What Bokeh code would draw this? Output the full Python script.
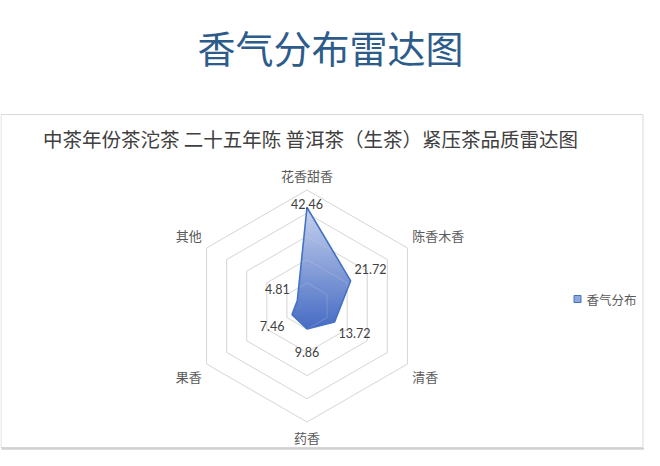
import numpy as np
from bokeh.plotting import figure
from bokeh.models import Range1d
from bokeh.core.properties import value
from bokeh.embed import file_html
from bokeh.resources import INLINE

# ---------------- data ----------------
categories = ["花香甜香", "陈香木香", "清香", "药香", "果香", "其他"]
values = [42.46, 21.72, 13.72, 9.86, 7.46, 4.81]
ring_levels = [10, 20, 30, 40, 50]
series_name = "香气分布"
main_title = "香气分布雷达图"
chart_title = "中茶年份茶沱茶 二十五年陈 普洱茶（生茶）紧压茶品质雷达图"

# ---------------- layout ----------------
W, H = 644, 450
R_MAX = ring_levels[-1]
scale = 116.0 / R_MAX          # px per value unit
cx, cy = 306.5, 305.5          # radar centre in canvas px (from top-left)

x_range = Range1d(-cx / scale, (W - cx) / scale)
y_range = Range1d(-(H - cy) / scale, cy / scale)


def X(px):
    return x_range.start + px / scale


def Y(py):
    return y_range.end - py / scale


CJK = value("Noto Sans CJK SC")

p = figure(width=W, height=H, x_range=x_range, y_range=y_range,
           output_backend="svg", toolbar_location=None, min_border=0)
p.axis.visible = False
p.grid.visible = False
p.outline_line_color = None
p.background_fill_color = "white"
p.border_fill_color = "white"

n = len(categories)
theta = np.pi / 2 - np.arange(n) * 2 * np.pi / n
cos_t, sin_t = np.cos(theta), np.sin(theta)

# chart box
p.quad(left=[X(0.5)], right=[X(642.5)], top=[Y(114)], bottom=[Y(447)],
       fill_color="white", line_color="#D9D9D9", line_width=1)
p.line(x=[X(1), X(644)], y=[Y(448.3), Y(448.3)], line_color="#D0D0D0", line_width=2)

# grid rings
ring_xs = [list(lv * cos_t) for lv in ring_levels]
ring_ys = [list(lv * sin_t) for lv in ring_levels]
p.patches(xs=ring_xs, ys=ring_ys, fill_color=None, line_color="#D9D9D9", line_width=1)

# series polygon with vertical gradient (built from clipped bands)
vals = np.array(values)
px_ = vals * cos_t
py_ = vals * sin_t
poly = list(zip(px_, py_))


def clip_half(pts, keep, inter):
    out = []
    for i in range(len(pts)):
        cur, prev = pts[i], pts[i - 1]
        if keep(cur):
            if not keep(prev):
                out.append(inter(prev, cur))
            out.append(cur)
        elif keep(prev):
            out.append(inter(prev, cur))
    return out


def at_y(yv):
    def f(a, b):
        t = (yv - a[1]) / (b[1] - a[1])
        return (a[0] + (b[0] - a[0]) * t, yv)
    return f


def clip_band(pts, y0, y1):
    pts = clip_half(pts, lambda q: q[1] >= y0, at_y(y0))
    if pts:
        pts = clip_half(pts, lambda q: q[1] <= y1, at_y(y1))
    return pts


top_rgb = np.array([0xC8, 0xD3, 0xEE])
bot_rgb = np.array([0x47, 0x6C, 0xC4])
ymax, ymin = py_.max(), py_.min()
NB = 70
edges = np.linspace(ymax, ymin, NB + 1)
bxs, bys, bcols = [], [], []
eps = (ymax - ymin) / NB * 0.6
for i in range(NB):
    hi, lo = edges[i], edges[i + 1]
    pts = clip_band(poly, lo - eps, hi)
    if len(pts) >= 3:
        t = (i + 0.5) / NB
        c = (top_rgb * (1 - t) + bot_rgb * t).astype(int)
        bxs.append([q[0] for q in pts])
        bys.append([q[1] for q in pts])
        bcols.append("#%02x%02x%02x" % tuple(c))
p.patches(xs=bxs, ys=bys, fill_color=bcols, line_color=None, fill_alpha=1.0)

# faint grid through the fill
p.patches(xs=ring_xs, ys=ring_ys, fill_color=None, line_color="#D9D9D9",
          line_width=1, line_alpha=0.25)

# outline
p.patch(x=list(px_), y=list(py_), fill_color=None, line_color="#4472C4", line_width=1.6)

# category labels
off = 5.5 / scale
lx = (R_MAX + off) * cos_t
ly = (R_MAX + off) * sin_t
aligns = ["left" if c > 0.1 else ("right" if c < -0.1 else "center") for c in cos_t]
bases = ["bottom" if s > 0 else "top" for s in sin_t]
for i in range(n):
    p.text(x=[lx[i]], y=[ly[i]], text=[categories[i]], text_font=CJK,
           text_font_size="13px", text_color="#595959",
           text_align=aligns[i], text_baseline=bases[i])

# data labels
lab_r = np.minimum(vals + 23.0 / scale, 44.0)
p.text(x=list(lab_r * cos_t), y=list(lab_r * sin_t),
       text=["%.2f" % v for v in values], text_font=value("Lato"),
       text_font_size="12.5px", text_color="#404040",
       text_align="center", text_baseline="middle")

# titles
p.text(x=[X(330)], y=[Y(46)], text=[main_title], text_font=CJK,
       text_font_size="38px", text_color="#2E5C8A",
       text_align="center", text_baseline="middle")
p.text(x=[X(310)], y=[Y(137.5)], text=[chart_title], text_font=CJK,
       text_font_size="19.5px", text_color="#404040",
       text_align="center", text_baseline="middle")

# legend
p.rect(x=[X(577)], y=[Y(298.5)], width=7, height=7, width_units="screen",
       height_units="screen", fill_color="#8FA7DD", line_color="#4472C4", line_width=1)
p.text(x=[X(586)], y=[Y(299)], text=[series_name], text_font=CJK,
       text_font_size="12.5px", text_color="#595959",
       text_align="left", text_baseline="middle")

open("out.html", "w").write(file_html(p, INLINE))
